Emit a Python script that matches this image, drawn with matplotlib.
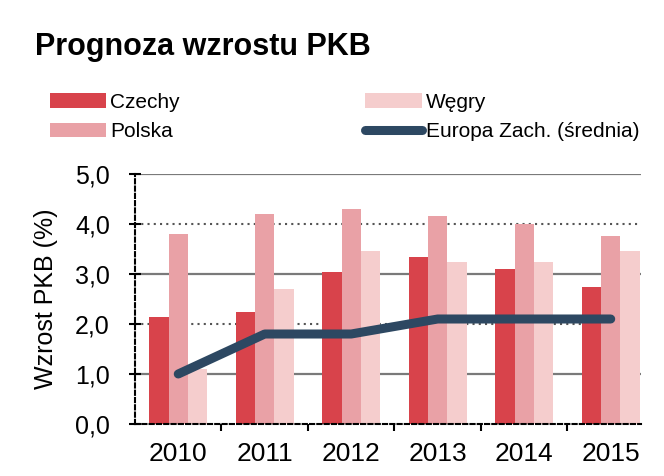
import matplotlib
matplotlib.use("Agg")
import matplotlib.pyplot as plt
import numpy as np

years = ["2010", "2011", "2012", "2013", "2014", "2015"]
czechy = [2.15, 2.25, 3.05, 3.35, 3.1, 2.75]
polska = [3.8, 4.2, 4.3, 4.15, 4.0, 3.75]
wegry = [1.1, 2.7, 3.45, 3.25, 3.25, 3.45]
europa = [1.0, 1.8, 1.8, 2.1, 2.1, 2.1]
yticks = [0, 1, 2, 3, 4, 5]
ytick_labels = ["0,0", "1,0", "2,0", "3,0", "4,0", "5,0"]

plt.rcParams['font.family'] = ['Liberation Sans', 'DejaVu Sans']

fig = plt.figure(figsize=(6.64, 4.76), dpi=100)
ax = fig.add_axes([135/664, 1-424/476, (641-135)/664, 250/476])

x = np.arange(len(years))
w = 0.223
c_cz = "#D8434B"
c_pl = "#E9A1A6"
c_hu = "#F5CDCD"
c_eu = "#2D4862"

# gridlines
for v in [1, 3, 5]:
    ax.axhline(v, color="#7a7a7a", lw=1.6, zorder=0)
for v in [2, 4]:
    ax.axhline(v, color="#555555", lw=1.5, ls=(0, (1, 2)), zorder=0)

ax.bar(x - w, czechy, w, color=c_cz, label="Czechy", zorder=2)
ax.bar(x, polska, w, color=c_pl, label="Polska", zorder=2)
ax.bar(x + w, wegry, w, color=c_hu, label="Węgry", zorder=2)
ax.plot(x, europa, color=c_eu, lw=6.5, solid_capstyle="round", solid_joinstyle="round",
        label="Europa Zach. (średnia)", zorder=3)

ax.set_xlim(-0.5, 5.35)
ax.set_ylim(0, 5)
ax.set_yticks(yticks)
ax.set_yticklabels(ytick_labels, fontsize=18)
ax.set_xticks(x)
ax.set_xticklabels(years, fontsize=19)
ax.set_xticks(np.arange(0.5, 5, 1), minor=True)
ax.tick_params(axis="x", which="major", length=0, pad=13)
ax.tick_params(axis="x", which="minor", length=5, direction="out", width=1.5)
ax.tick_params(axis="y", which="major", length=8, direction="inout", width=1.5, pad=14)
ax.set_ylabel("Wzrost PKB (%)", fontsize=18, labelpad=12)

for s in ["top", "right"]:
    ax.spines[s].set_visible(False)
for s in ["left", "bottom"]:
    ax.spines[s].set_linestyle((0, (2, 1.5)))
    ax.spines[s].set_linewidth(1.5)
    ax.spines[s].set_color("black")

fig.text(35/664, 1-47/476, "Prognoza wzrostu PKB", fontsize=22, fontweight="bold",
         va="center", ha="left")

h, l = ax.get_legend_handles_labels()
labels = ["Czechy", "Polska", "Węgry", "Europa Zach. (średnia)"]
handles = [h[l.index(s)] for s in labels]
fig.legend(handles, labels, loc="upper left", bbox_to_anchor=(50/664, 1-93/476),
           ncol=2, frameon=False, fontsize=15, handlelength=2.7, handletextpad=0.2,
           columnspacing=8.9, labelspacing=0.5, borderpad=0, borderaxespad=0)

fig.savefig("out.png", dpi=100)
